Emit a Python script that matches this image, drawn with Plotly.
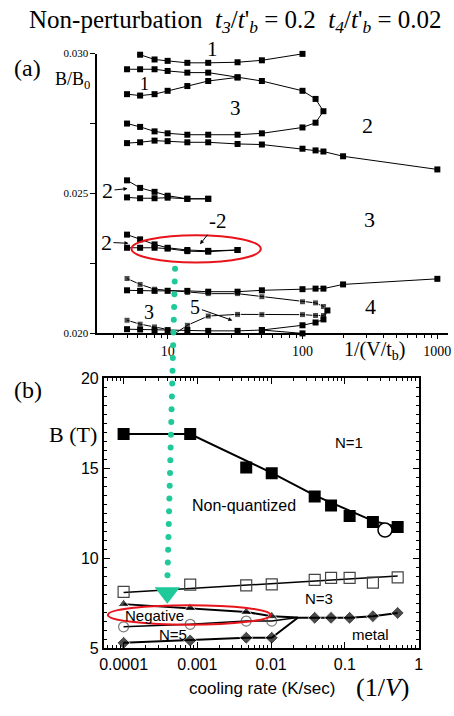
import numpy as np
import plotly.graph_objects as go

W, H = 454, 716
SERIF = "Liberation Serif"
SANS = "Liberation Sans"
TEAL = "#1fc99a"
RED = "#e8141c"

# ---------------- Panel (a) data : x = 1/(V/t_b), y = B/B0 ----------------
a_top_x = [6.25, 8, 10, 14, 20, 33, 50, 100]
a_top_y = [0.02996, 0.02979, 0.02974, 0.02967, 0.02967, 0.02969, 0.02976, 0.02999]

a_loop_x = [5, 6.25, 8, 10, 14, 20, 33, 50, 100, 125, 143, 125, 100, 50, 33, 20, 14, 10, 8, 6.25, 5]
a_loop_y = [0.02944, 0.02944, 0.02944, 0.02938, 0.02932, 0.02932, 0.02915, 0.02902, 0.02867,
            0.02838, 0.02794, 0.02753, 0.02736, 0.02715, 0.02710, 0.02710, 0.02710, 0.02715,
            0.02722, 0.02738, 0.02750]

a_row3_x = [5, 6.25, 8, 10, 14, 20, 33]
a_row3_y = [0.02855, 0.02850, 0.02855, 0.02867, 0.02884, 0.02902, 0.02915]

a_row5_x = [5, 6.25, 8, 10, 14, 20, 33, 50, 100, 125, 143, 200, 1000]
a_row5_y = [0.02680, 0.02683, 0.02689, 0.02687, 0.02683, 0.02683, 0.02677, 0.02675, 0.02660,
            0.02654, 0.02650, 0.02633, 0.02586]

a_row6_x = [5, 6.25, 8, 10, 14, 20]
a_row6_y = [0.02547, 0.02520, 0.02506, 0.02492, 0.02481, 0.02481]

a_row7_x = [5, 6.25, 8, 10, 14, 20]
a_row7_y = [0.02486, 0.02483, 0.02483, 0.02485, 0.02481, 0.02481]

a_row8_x = [5, 6.25, 8, 10, 14, 20, 33]
a_row8_y = [0.02353, 0.02336, 0.02318, 0.02306, 0.02298, 0.02295, 0.02298]

a_row9_x = [5, 6.25, 8, 10, 14, 20, 33]
a_row9_y = [0.02306, 0.02306, 0.02306, 0.02303, 0.02294, 0.02292, 0.02298]

# row 10 -> nose -> "5" branch -> vertex at axis -> lower "3" branch
a_row10_x = [5, 6.25, 8, 10, 14, 20, 33, 50, 100, 125, 143, 153, 143, 125, 100, 50, 33, 20, 14,
             11.4, 10, 8, 6.25, 5]
a_row10_y = [0.02196, 0.02175, 0.02158, 0.02154, 0.02146, 0.02142, 0.02142, 0.02131, 0.02113,
             0.02109, 0.02096, 0.02082, 0.02064, 0.02064, 0.02067, 0.02067, 0.02068, 0.02062,
             0.02029, 0.02000, 0.02014, 0.02023, 0.02033, 0.02047]
a_row10_s = [6] * 19 + [0] + [6] * 4

a_row11_x = [5, 6.25, 8, 10, 14, 20, 33, 50, 100, 125, 143, 200, 1000]
a_row11_y = [0.02154, 0.02152, 0.02152, 0.02152, 0.02152, 0.02149, 0.02149, 0.02154, 0.02158,
             0.02160, 0.02160, 0.02175, 0.02195]

a_row14_x = [5, 6.25, 8, 10, 14, 20, 33, 50, 100]
a_row14_y = [0.02015, 0.02014, 0.02012, 0.02011, 0.02012, 0.02009, 0.02009, 0.02012, 0.02000]

a_row15_x = [50, 100, 125, 143, 153]
a_row15_y = [0.02012, 0.02029, 0.02039, 0.02050, 0.02082]

a_curves = [
    (a_top_x, a_top_y, None), (a_loop_x, a_loop_y, None), (a_row3_x, a_row3_y, None),
    (a_row5_x, a_row5_y, None), (a_row6_x, a_row6_y, None), (a_row7_x, a_row7_y, None),
    (a_row8_x, a_row8_y, None), (a_row9_x, a_row9_y, None), (a_row10_x, a_row10_y, a_row10_s),
    (a_row11_x, a_row11_y, None), (a_row14_x, a_row14_y, None), (a_row15_x, a_row15_y, None),
]

a_xticks = [10, 100, 1000]
a_xticklabels = ["10", "100", "1000"]
a_xminor = [4, 5, 6, 7, 8, 9, 20, 30, 40, 50, 60, 70, 80, 90, 200, 300, 400, 500, 600, 700, 800, 900]
a_yticks = [0.020, 0.025, 0.030]
a_yticklabels = ["0.020", "0.025", "0.030"]
a_yminor = [0.0225, 0.0275]

# ---------------- Panel (b) data : x = cooling rate (K/sec), y = B (T) ----------------
b_rate = [0.0001, 0.0008, 0.0046, 0.0102, 0.039, 0.065, 0.116, 0.24, 0.52]

b_n1_y = [16.9, 16.9, 15.04, 14.73, 13.43, 12.93, 12.35, 12.02, 11.74]
b_n1_fit_x = [0.0001, 0.0008, 0.0102, 0.039, 0.24, 0.52]
b_n1_fit_y = [16.9, 16.9, 14.75, 13.5, 12.08, 11.74]
b_open_circle_x = [0.35]
b_open_circle_y = [11.57]

b_n3_y = [8.14, 8.54, 8.50, 8.56, 8.81, 8.92, 8.92, 8.65, 8.95]
b_n3_fit_x = [0.0001, 0.52]
b_n3_fit_y = [8.1, 9.02]

b_neg_x = [0.0001, 0.0008, 0.0046, 0.0102, 0.023]
b_neg_y = [7.46, 7.24, 7.02, 6.79, 6.72]
b_n5_x = [0.0001, 0.0008, 0.0046, 0.0102, 0.023]
b_n5_y = [6.20, 6.34, 6.52, 6.52, 6.72]
b_metal_x = [0.0001, 0.0008, 0.0046, 0.0102, 0.023, 0.039, 0.065, 0.116, 0.24, 0.52]
b_metal_y = [5.31, 5.44, 5.59, 5.59, 6.70, 6.70, 6.70, 6.70, 6.79, 6.97]

b_xticks = [0.0001, 0.001, 0.01, 0.1, 1]
b_xticklabels = ["0.0001", "0.001", "0.01", "0.1", "1"]
b_xminor = [m * 10.0 ** e for e in range(-5, 0) for m in range(2, 10)]
b_yticks = [5, 10, 15, 20]

# ---------------- Figure ----------------
def P(px, py):
    return px / W, 1 - py / H

fig = go.Figure()

for xs, ys, sz in a_curves:
    fig.add_trace(go.Scatter(
        x=xs, y=ys, mode="lines+markers", xaxis="x", yaxis="y",
        line=dict(color="black", width=1),
        marker=dict(symbol="square", size=sz if sz is not None else 6, color="black"),
        showlegend=False, cliponaxis=False))

# panel (b)
fig.add_trace(go.Scatter(x=b_n1_fit_x, y=b_n1_fit_y, mode="lines", xaxis="x2", yaxis="y2",
                         line=dict(color="black", width=2), showlegend=False))
fig.add_trace(go.Scatter(x=b_rate, y=b_n1_y, mode="markers", xaxis="x2", yaxis="y2",
                         marker=dict(symbol="square", size=12, color="black"), showlegend=False))
fig.add_trace(go.Scatter(x=b_open_circle_x, y=b_open_circle_y, mode="markers", xaxis="x2", yaxis="y2",
                         marker=dict(symbol="circle", size=14, color="white",
                                     line=dict(color="black", width=1.5)), showlegend=False))
fig.add_trace(go.Scatter(x=b_n3_fit_x, y=b_n3_fit_y, mode="lines", xaxis="x2", yaxis="y2",
                         line=dict(color="black", width=1.5), showlegend=False))
fig.add_trace(go.Scatter(x=b_rate, y=b_n3_y, mode="markers", xaxis="x2", yaxis="y2",
                         marker=dict(symbol="square-open", size=11, color="#444",
                                     line=dict(width=1.2)), showlegend=False))
fig.add_trace(go.Scatter(x=b_neg_x, y=b_neg_y, mode="lines+markers", xaxis="x2", yaxis="y2",
                         line=dict(color="black", width=2),
                         marker=dict(symbol="triangle-up", size=[10, 10, 10, 10, 0], color="black"),
                         showlegend=False))
fig.add_trace(go.Scatter(x=b_n5_x, y=b_n5_y, mode="lines+markers", xaxis="x2", yaxis="y2",
                         line=dict(color="black", width=1.5),
                         marker=dict(symbol="circle-open", size=[10, 10, 10, 10, 0], color="#444",
                                     line=dict(width=1.2)),
                         showlegend=False))
fig.add_trace(go.Scatter(x=b_metal_x, y=b_metal_y, mode="lines+markers", xaxis="x2", yaxis="y2",
                         line=dict(color="black", width=2),
                         marker=dict(symbol="diamond", size=[10, 10, 10, 10, 0, 10, 10, 10, 10, 10],
                                     color="black"),
                         showlegend=False))

# overlay (pixel) axis for the teal dotted connector
dots_x = np.linspace(174.5, 166.8, 25)
dots_y = np.linspace(267, 581, 25)
fig.add_trace(go.Scatter(x=dots_x, y=dots_y, mode="markers", xaxis="x3", yaxis="y3",
                         marker=dict(size=6, color=TEAL), showlegend=False, hoverinfo="skip"))
fig.add_trace(go.Scatter(x=[166.6], y=[599], mode="markers", xaxis="x3", yaxis="y3",
                         marker=dict(symbol="triangle-down", size=22, color=TEAL),
                         showlegend=False, hoverinfo="skip"))

xa0, ya0 = P(95, 333.3)
xa1, ya1 = P(453, 46.7)
xb0, yb0 = P(102, 656)
xb1, yb1 = P(423, 379.3)

fig.update_layout(
    width=W, height=H, margin=dict(l=0, r=0, t=0, b=0),
    paper_bgcolor="white", plot_bgcolor="rgba(0,0,0,0)",
    showlegend=False,
    xaxis=dict(domain=[xa0, xa1], type="log", range=[np.log10(3.0), np.log10(1200)],
               anchor="y", showline=True, linecolor="black", linewidth=1.5,
               ticks="outside", ticklen=4, tickcolor="black", tickwidth=1,
               tickmode="array", tickvals=a_xticks, ticktext=a_xticklabels,
               minor=dict(tickmode="array", tickvals=a_xminor, ticks="outside", ticklen=3,
                          tickcolor="black", showgrid=False),
               showgrid=False, zeroline=False,
               tickfont=dict(family=SERIF, size=14, color="black")),
    yaxis=dict(domain=[ya0, ya1], range=[0.020, 0.030], anchor="x",
               showline=True, linecolor="black", linewidth=1.5,
               ticks="outside", ticklen=5, tickcolor="black", tickwidth=1,
               tickmode="array", tickvals=a_yticks, ticktext=a_yticklabels,
               minor=dict(tickmode="array", tickvals=a_yminor, ticks="outside", ticklen=5,
                          tickcolor="black", showgrid=False),
               showgrid=False, zeroline=False,
               tickfont=dict(family=SERIF, size=11, color="black")),
    xaxis2=dict(domain=[xb0, xb1], type="log", range=[np.log10(0.0001) - 0.266, 0.0],
                anchor="y2", showline=True, linecolor="black", linewidth=2, mirror="allticks",
                ticks="inside", ticklen=6, tickcolor="black", tickwidth=1.2,
                tickmode="array", tickvals=b_xticks, ticktext=b_xticklabels,
                minor=dict(tickmode="array", tickvals=b_xminor, ticks="inside", ticklen=3,
                           tickcolor="black", showgrid=False),
                showgrid=False, zeroline=False,
                tickfont=dict(family=SANS, size=16, color="black")),
    yaxis2=dict(domain=[yb0, yb1], range=[5, 20], anchor="x2",
                showline=True, linecolor="black", linewidth=2, mirror="allticks",
                ticks="inside", ticklen=6, tickcolor="black", tickwidth=1.2,
                tickmode="array", tickvals=b_yticks,
                minor=dict(dtick=0.5, ticks="inside", ticklen=3, tickcolor="black", showgrid=False),
                showgrid=False, zeroline=False,
                tickfont=dict(family=SANS, size=16, color="black")),
    xaxis3=dict(domain=[0, 1], range=[0, W], anchor="y3", visible=False, fixedrange=True),
    yaxis3=dict(domain=[0, 1], range=[H, 0], anchor="x3", visible=False, fixedrange=True),
)

ann = []
def txt(px, py, text, size, family=SERIF):
    x, y = P(px, py)
    ann.append(dict(x=x, y=y, xref="paper", yref="paper", text=text, showarrow=False,
                    xanchor="center", yanchor="middle",
                    font=dict(family=family, size=size, color="black")))

def label_arrow(px, py, text, size, hx, hy):
    # text centred at (px, py) with an arrow pointing to (hx, hy)
    x, y = P(hx, hy)
    ann.append(dict(x=x, y=y, xref="paper", yref="paper", text=text, showarrow=True,
                    ax=px - hx, ay=py - hy, arrowhead=2, arrowsize=0.8, arrowwidth=1,
                    arrowcolor="black", standoff=0, startstandoff=0,
                    font=dict(family=SERIF, size=size, color="black")))

txt(236, 14, "Non-perturbation  <i>t</i><sub><i>3</i></sub>/<i>t</i>'<sub><i>b</i></sub> = 0.2  "
              "<i>t</i><sub><i>4</i></sub>/<i>t</i>'<sub><i>b</i></sub> = 0.02", 25)
txt(24, 61, "(a)", 24)
txt(70, 74, "B/B<sub>0</sub>", 18)
txt(213, 42, "1", 21)
txt(143, 78, "1", 18)
txt(236, 102, "3", 21)
txt(371, 120, "2", 22)
label_arrow(106, 187, "2", 22, 126, 185)
label_arrow(218, 219, "-2", 21, 200, 242)
label_arrow(105, 240, "2", 22, 127, 241)
txt(373, 217, "3", 22)
txt(148, 311, "3", 20)
label_arrow(196, 307, "5", 20, 233, 320)
txt(374, 306, "4", 22)
txt(378, 351, "1/(V/t<sub>b</sub>)", 20)

txt(24, 391, "(b)", 24)
txt(70, 437, "B (T)", 22)
txt(352, 445, "N=1", 15, SANS)
txt(245, 510, "Non-quantized", 16, SANS)
txt(321, 605, "N=3", 15, SANS)
txt(154, 622.5, "Negative", 15, SANS)
txt(172, 641.5, "N=5", 15, SANS)
txt(374, 642, "metal", 15, SANS)
txt(263, 697, "cooling rate (K/sec)", 17, SANS)
txt(386, 696, "(1/<i>V</i>)", 26)

fig.update_layout(annotations=ann)

# red ellipses
for (cx, cy, rx, ry) in [(196, 246.7, 66, 14), (189, 621.7, 83, 10)]:
    x0, y0 = P(cx - rx, cy + ry)
    x1, y1 = P(cx + rx, cy - ry)
    fig.add_shape(type="circle", xref="paper", yref="paper", x0=x0, y0=y0, x1=x1, y1=y1,
                  line=dict(color=RED, width=2))

fig.write_html("out.html")
